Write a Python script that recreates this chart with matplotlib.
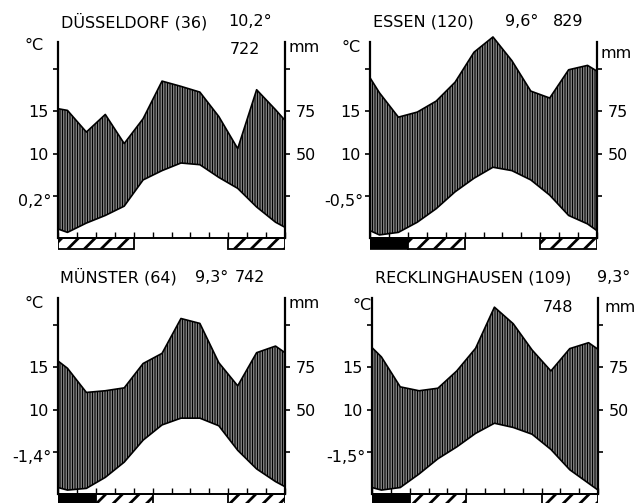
import numpy as np
import matplotlib
matplotlib.use('Agg')
import matplotlib.pyplot as plt
from matplotlib.ticker import FixedLocator

# x positions: left edge, the 12 month centres, right edge
month_x = [0, 0.5, 1.5, 2.5, 3.5, 4.5, 5.5, 6.5, 7.5, 8.5, 9.5, 10.5, 11.5, 12]

names = ['DÜSSELDORF (36)', 'ESSEN (120)', 'MÜNSTER (64)', 'RECKLINGHAUSEN (109)']
mean_temp = ['10,2°', '9,6°', '9,3°', '9,3°']
annual_rain = ['722', '829', '742', '748']
min_temp = ['0,2°', '-0,5°', '-1,4°', '-1,5°']

# temperature curves in degC (scale: 5 degC per tick = 25 mm)
temp_dus = [1.1, 0.7, 1.8, 2.7, 3.8, 6.9, 8.0, 8.9, 8.7, 7.2, 5.9, 3.7, 1.9, 1.3]
temp_ess = [0.9, 0.4, 0.7, 1.9, 3.5, 5.5, 7.1, 8.4, 8.0, 6.9, 5.1, 2.7, 1.7, 0.9]
temp_mue = [0.8, 0.5, 0.7, 2.0, 3.8, 6.4, 8.2, 9.0, 9.0, 8.1, 5.2, 3.0, 1.5, 0.9]
temp_rec = [0.8, 0.5, 0.8, 2.4, 4.2, 5.6, 7.2, 8.4, 7.9, 7.1, 5.3, 2.9, 1.3, 0.5]

# precipitation curves in mm
prec_dus = [76.6, 75.6, 62.8, 73.2, 56.0, 70.7, 92.9, 89.8, 86.4, 72.0, 53.0, 87.8, 76.0, 69.7]
prec_ess = [94.9, 86.0, 71.6, 74.6, 81.1, 92.3, 110.0, 119.0, 105.0, 87.0, 82.9, 99.6, 102.2, 98.8]
prec_mue = [78.8, 74.5, 60.2, 61.2, 62.9, 77.3, 83.3, 103.9, 101.0, 77.8, 64.1, 83.7, 87.6, 83.7]
prec_rec = [86.7, 81.2, 63.5, 61.2, 62.7, 72.9, 86.3, 110.6, 100.8, 85.3, 72.9, 86.1, 89.6, 85.7]

temps = [temp_dus, temp_ess, temp_mue, temp_rec]
precs = [prec_dus, prec_ess, prec_mue, prec_rec]

# frost months (start month, number of months)
black_frost = [[], [(0, 2)], [(0, 2)], [(0, 2)]]
hatch_frost = [[(0, 4), (9, 3)], [(2, 3), (9, 3)], [(2, 3), (9, 3)], [(2, 3), (9, 3)]]

W, H = 639, 503
fig = plt.figure(figsize=(W / 100, H / 100), dpi=100)
plt.rcParams['hatch.linewidth'] = 1.0

# panel frames in pixels: left axis x, right axis x, baseline y
frames = [(58, 285, 238.3), (370, 597, 238.3), (58, 285, 494.3), (372, 598, 494.3)]
ppm = 1.692  # pixels per mm
ylo, yhi = -8, 125

# text positions in pixels (x left, y centre)
title_pos = [(61, 22), (373, 22), (60, 277), (375, 278)]
mean_pos = [(228, 22), (505, 22), (195, 277), (597, 278)]
rain_pos = [(230, 50), (553, 22), (235, 277), (543, 308)]
degc_pos = [(25, 45), (342, 48), (25, 303), (352, 305)]
mm_pos = [(288, 48), (600, 53), (288, 303), (605, 308)]

fs = 11.5


def ftext(x, y, s, **kw):
    fig.text(x / W, 1 - y / H, s, fontsize=fs, va='center', ha='left', **kw)


def hatch_lw(artist, lw):
    try:
        artist.set_hatch_linewidth(lw)
    except AttributeError:
        pass


for i in range(4):
    x0, x1, base = frames[i]
    top = base - yhi * ppm
    bot = base - ylo * ppm
    ax = fig.add_axes([x0 / W, 1 - bot / H, (x1 - x0) / W, (bot - top) / H])
    ax.patch.set_alpha(0)
    ax.set_xlim(0, 12)
    ax.set_ylim(ylo, yhi)

    t = np.array(temps[i]) * 5
    p = np.array(precs[i])
    humid = ax.fill_between(month_x, t, p, facecolor='white', edgecolor='black',
                            hatch='|' * 10, linewidth=0)
    hatch_lw(humid, 0.85)
    ax.plot(month_x, t, color='black', lw=1.2)
    ax.plot(month_x, p, color='black', lw=1.2)

    for start, n in black_frost[i]:
        ax.bar(start, -6.5, width=n, align='edge', color='black', lw=1.2, edgecolor='black')
    for start, n in hatch_frost[i]:
        bars = ax.bar(start, -6.5, width=n, align='edge', facecolor='white',
                      edgecolor='black', hatch='//', lw=1.3)
        for b in bars:
            hatch_lw(b, 2.0)

    # spines
    ax.spines['top'].set_visible(False)
    ax.spines['right'].set_visible(False)
    ax.spines['bottom'].set_position(('data', 0))
    ax.spines['bottom'].set_linewidth(1.4)
    ax.spines['left'].set_bounds(0, 116)
    ax.spines['left'].set_linewidth(1.6)

    ax.xaxis.set_major_locator(FixedLocator(range(13)))
    ax.xaxis.set_minor_locator(FixedLocator([6]))
    ax.tick_params(axis='x', which='major', direction='in', length=4.5, width=1.0,
                   labelbottom=False)
    ax.tick_params(axis='x', which='minor', direction='out', length=9, width=1.2)

    ax.set_yticks([25, 50, 75, 100])
    ax.set_yticklabels(['', '10', '15', ''])
    ax.tick_params(axis='y', direction='out', length=3.5, width=1.2, pad=3,
                   labelsize=fs)
    ax.annotate(min_temp[i], xy=(0, 25), xycoords=('axes fraction', 'data'),
                xytext=(-5, -4), textcoords='offset points', ha='right',
                va='center', fontsize=fs)

    ax2 = ax.twinx()
    ax2.set_ylim(ylo, yhi)
    for s in ['top', 'left', 'bottom']:
        ax2.spines[s].set_visible(False)
    ax2.spines['right'].set_bounds(0, 116)
    ax2.spines['right'].set_linewidth(1.6)
    ax2.set_yticks([25, 50, 75, 100])
    ax2.set_yticklabels(['', '50', '75', ''])
    ax2.tick_params(axis='y', direction='out', length=3.5, width=1.2, pad=4,
                    labelsize=fs)

    ftext(*title_pos[i], names[i])
    ftext(*mean_pos[i], mean_temp[i])
    ftext(*rain_pos[i], annual_rain[i])
    ftext(*degc_pos[i], '°C')
    ftext(*mm_pos[i], 'mm')

fig.savefig('out.png', dpi=100)
